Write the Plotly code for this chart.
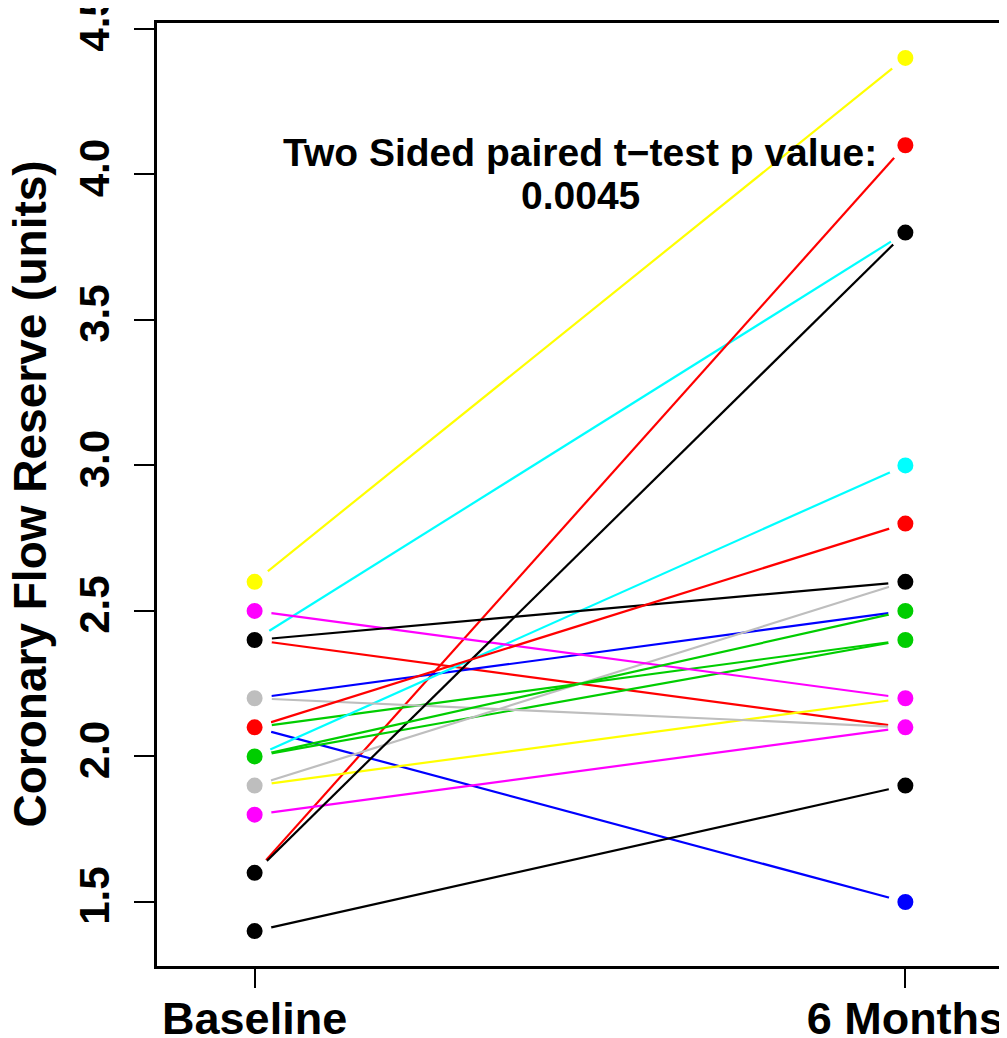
import plotly.graph_objects as go

# ---- data ----
time_labels = ["Baseline", "6 Months"]
subject_colors = [
    "#00FFFF", "#FF0000", "#FF0000", "#0000FF", "#0000FF", "#00CD00",
    "#00FFFF", "#00CD00", "#FFFF00", "#FFFF00", "#BEBEBE", "#BEBEBE",
    "#FF00FF", "#FF00FF", "#000000", "#000000", "#000000", "#FF0000",
    "#00CD00",
]
baseline = [2.4, 2.4, 1.6, 2.2, 2.1, 2.1, 2.0, 2.0, 1.9, 2.6, 2.2, 1.9,
            1.8, 2.5, 1.6, 2.4, 1.4, 2.1, 2.0]
month6 = [3.8, 2.1, 4.1, 2.5, 1.5, 2.4, 3.0, 2.4, 2.2, 4.4, 2.1, 2.6,
          2.1, 2.2, 3.8, 2.6, 1.9, 2.8, 2.5]
y_ticks = [1.5, 2.0, 2.5, 3.0, 3.5, 4.0, 4.5]
test_label = "Two Sided paired t\u2212test p value:"
p_value = "0.0045"
y_title = "Coronary Flow Reserve (units)"

FONT = "Liberation Sans"
x_pos = list(range(1, len(time_labels) + 1))

fig = go.Figure()
for col, b, m in zip(subject_colors, baseline, month6):
    fig.add_trace(go.Scatter(
        x=x_pos, y=[b, m], mode="lines",
        line=dict(color=col, width=2.2),
        hoverinfo="skip", showlegend=False,
    ))

for i, vals in enumerate([baseline, month6]):
    fig.add_trace(go.Scatter(
        x=[x_pos[i]] * len(vals), y=vals, mode="markers",
        marker=dict(color=subject_colors, size=25,
                    line=dict(color="white", width=9)),
        hoverinfo="skip", showlegend=False, cliponaxis=False,
    ))

fig.add_annotation(x=1.5, y=4.0, xref="x", yref="y", text=test_label,
                   showarrow=False, yshift=21.5, xanchor="center", yanchor="middle",
                   font=dict(family=FONT, size=39, color="black", weight="bold"))
fig.add_annotation(x=1.5, y=4.0, xref="x", yref="y", text=p_value,
                   showarrow=False, yshift=-21.5, xanchor="center", yanchor="middle",
                   font=dict(family=FONT, size=39, color="black", weight="bold"))
fig.add_annotation(x=0, y=0.5, xref="paper", yref="paper", text=y_title,
                   showarrow=False, xshift=-128, textangle=-90,
                   xanchor="center", yanchor="middle",
                   font=dict(family=FONT, size=46, color="black", weight="bold"))

fig.update_layout(
    width=999, height=1030,
    margin=dict(l=149, r=4, t=15, b=72, autoexpand=False),
    plot_bgcolor="white", paper_bgcolor="white",
    showlegend=False,
    xaxis=dict(
        range=[0.85, 2.15], tickvals=x_pos, ticktext=time_labels,
        showline=True, mirror=True, linecolor="black", linewidth=3,
        ticks="outside", ticklen=19, tickwidth=2, tickcolor="black",
        tickfont=dict(family=FONT, size=45, color="black", weight="bold"),
        ticklabelstandoff=-8, ticklabeloverflow="allow",
        showgrid=False, zeroline=False, automargin=False,
    ),
    yaxis=dict(
        range=[1.28, 4.52], tickvals=y_ticks,
        ticktext=[f"{v:.1f}" for v in y_ticks], tickangle=-90,
        showline=True, mirror=True, linecolor="black", linewidth=3,
        ticks="outside", ticklen=20, tickwidth=2, tickcolor="black",
        tickfont=dict(family=FONT, size=42, color="black", weight="bold"),
        ticklabelstandoff=8, ticklabeloverflow="allow",
        showgrid=False, zeroline=False, automargin=False,
    ),
)

fig.write_html("out.html")
